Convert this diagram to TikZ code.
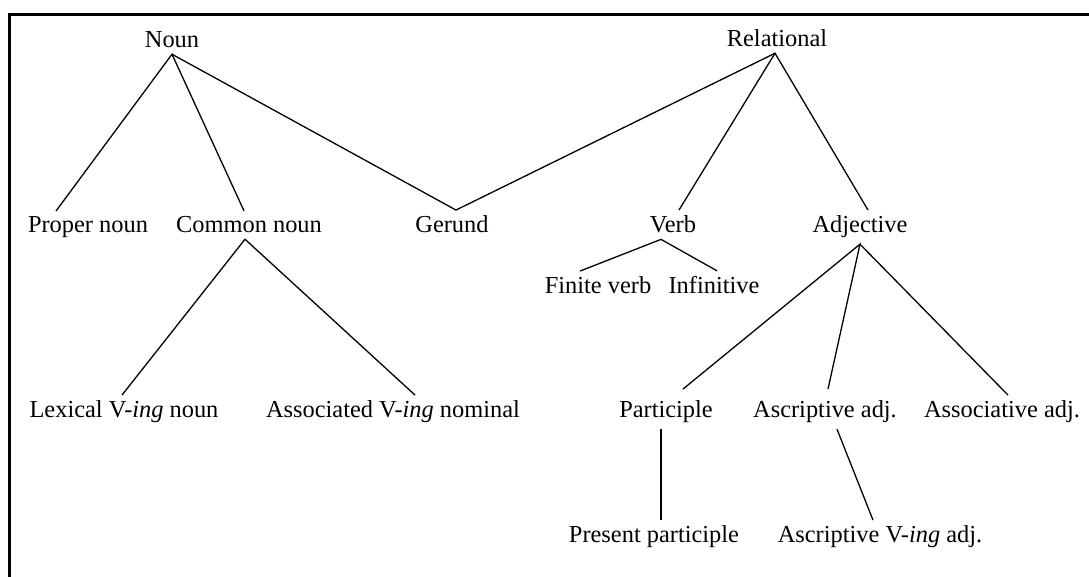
\documentclass[tikz,border=0pt]{standalone}
\usepackage{fontspec}
\setmainfont{Liberation Serif}
\usepackage{tikz}

\begin{document}
\begin{tikzpicture}[x=0.5pt, y=-0.5pt,
    every node/.style={font=\fontsize{12.2}{14}\selectfont, inner xsep=0pt, inner ysep=3pt, outer sep=0pt, anchor=base},
    branch/.style={draw=black, line width=0.65pt}]
    % Graphic area
    \useasboundingbox (0,0) rectangle (1089,577);
    \draw[line width=1.5pt] (9,577) -- (9,15) -- (1089,15);

    % Categories
    \node (noun) at (172,48) {Noun};
    \node (relational) at (777,47) {Relational};
    \node (proper) at (88,233) {Proper noun};
    \node (common) at (249,233) {Common noun};
    \node (gerund) at (452,233) {Gerund};
    \node (verb) at (673,233) {Verb};
    \node (adjective) at (860,233) {Adjective};
    \node (finite) at (598,294) {Finite verb};
    \node (infinitive) at (714,294) {Infinitive};
    \node (lexical) at (124,418) {Lexical V-\textit{ing} noun};
    \node (associated) at (393,418) {Associated V-\textit{ing} nominal};
    \node (participle) at (666,418) {Participle};
    \node (ascriptive) at (825,418) {Ascriptive adj.};
    \node (associative) at (1002,418) {Associative adj.};
    \node (present) at (654,543) {Present participle};
    \node (ascrving) at (880,543) {Ascriptive V-\textit{ing} adj.};

    % Branches
    \draw[branch] ([xshift=-16pt]proper.north) -- (noun.south) -- ([xshift=-2.5pt]common.north);
    \draw[branch] (noun.south) -- ([xshift=2pt]gerund.north) -- ([xshift=-1pt]relational.south);
    \draw[branch] ([xshift=3pt]verb.north) -- ([xshift=-1pt]relational.south) -- ([xshift=4pt]adjective.north);
    \draw[branch] ([xshift=-9pt]finite.north) -- ([xshift=-6pt]verb.south) -- ([xshift=1.5pt]infinitive.north);
    \draw[branch] ([xshift=-1pt]lexical.north) -- ([xshift=-2pt]common.south) -- ([xshift=11pt]associated.north);
    \draw[branch] ([xshift=8.5pt, yshift=3pt]participle.north) -- (adjective.south) -- ([xshift=1.5pt, yshift=3pt]ascriptive.north);
    \draw[branch] (adjective.south) -- ([xshift=3pt]associative.north);
    \draw[branch] ([xshift=-2.5pt]participle.south) -- ([xshift=3.5pt]present.north);
    \draw[branch] ([xshift=6pt]ascriptive.south) -- ([xshift=-3.5pt]ascrving.north);

\end{tikzpicture}
\end{document}
